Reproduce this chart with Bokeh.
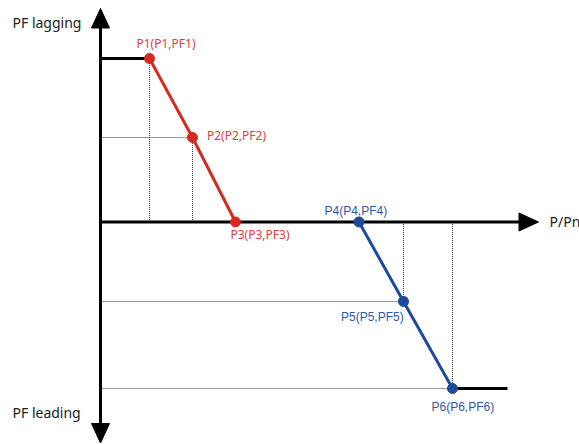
from bokeh.plotting import figure
from bokeh.models import Range1d, Label, ColumnDataSource
from bokeh.embed import file_html
from bokeh.resources import INLINE
from bokeh.core.properties import value

# ---- data (P/Pn and PF, arbitrary read-off units) ----
red_names = ["P1(P1,PF1)", "P2(P2,PF2)", "P3(P3,PF3)"]
red_p = [0.49, 0.92, 1.35]
red_pf = [1.635, 0.845, 0.0]

blue_names = ["P4(P4,PF4)", "P5(P5,PF5)", "P6(P6,PF6)"]
blue_p = [2.585, 3.03, 3.52]
blue_pf = [0.0, -0.795, -1.665]

p_end_line = 4.07          # end of the flat segment after P6
x_axis_end = 4.38          # P/Pn arrow tip
y_axis_top = 2.135         # PF lagging arrow tip
y_axis_bottom = -2.21      # PF leading arrow tip

RED = "#d52a22"
RED_TXT = "#e0403a"
BLUE = "#1d4a9a"
BLUE_TXT = "#2c5aa5"
DOT = "#333333"

W, H = 579, 444
p = figure(width=W, height=H, output_backend="svg", toolbar_location=None,
           x_range=Range1d(-1.0, -1.0 + W / 100), y_range=Range1d(2.215 - H / 100, 2.215),
           min_border=0, min_border_left=0, min_border_right=0, min_border_top=0, min_border_bottom=0)
p.xaxis.visible = False
p.yaxis.visible = False
p.grid.visible = False
p.outline_line_color = None
p.background_fill_color = "white"

head_len = 0.195
head_half = 0.09

# dotted guides
guide_pts_x = [red_p[0], red_p[1], blue_p[1], blue_p[2]]
guide_pts_y = [red_pf[0], red_pf[1], blue_pf[1], blue_pf[2]]
for gx, gy in zip(guide_pts_x, guide_pts_y):
    p.line([gx, gx], [0, gy], line_color=DOT, line_width=1, line_dash="1 1")
for gx, gy in zip([red_p[1], blue_p[1], blue_p[2]], [red_pf[1], blue_pf[1], blue_pf[2]]):
    p.line([0, gx], [gy, gy], line_color=DOT, line_width=1, line_dash="1 1")

# axes
p.line([0, 0], [y_axis_bottom + head_len, y_axis_top - head_len], line_color="black", line_width=3)
p.line([0, x_axis_end - head_len], [0, 0], line_color="black", line_width=3)
# arrow heads
p.patches(
    xs=[[-head_half, head_half, 0],
        [-head_half, head_half, 0],
        [x_axis_end - head_len, x_axis_end - head_len, x_axis_end]],
    ys=[[y_axis_top - head_len, y_axis_top - head_len, y_axis_top],
        [y_axis_bottom + head_len, y_axis_bottom + head_len, y_axis_bottom],
        [-head_half, head_half, 0]],
    fill_color="black", line_color="black", line_width=1)

# flat black segments
p.line([0, red_p[0]], [red_pf[0], red_pf[0]], line_color="black", line_width=3)
p.line([blue_p[2], p_end_line], [blue_pf[2], blue_pf[2]], line_color="black", line_width=3)

# characteristic lines
p.line(red_p, red_pf, line_color=RED, line_width=3)
p.line(blue_p, blue_pf, line_color=BLUE, line_width=3)
p.scatter(red_p, red_pf, size=10, fill_color=RED, line_color=RED)
p.scatter(blue_p, blue_pf, size=10, fill_color=BLUE, line_color=BLUE)

# point labels
red_src = ColumnDataSource(dict(x=red_p, y=red_pf, t=red_names,
                                xo=[-13, 14.5, -5], yo=[-15, -2, 12.5]))
p.text(x="x", y="y", text="t", x_offset="xo", y_offset="yo", source=red_src,
       text_color=RED_TXT, text_font=value("Noto Sans"), text_font_size="12px",
       text_align="left", text_baseline="middle")
blue_src = ColumnDataSource(dict(x=blue_p, y=blue_pf, t=blue_names,
                                 xo=[-34.5, -62.5, -21], yo=[-11.5, 15.7, 18.7]))
p.text(x="x", y="y", text="t", x_offset="xo", y_offset="yo", source=blue_src,
       text_color=BLUE_TXT, text_font=value("Liberation Sans"), text_font_size="12px",
       text_align="left", text_baseline="middle")

# axis titles
for txt, x, y in [("PF lagging", 12, H - 22), ("PF leading", 12, H - 412), ("P/Pn", 549, H - 221)]:
    p.add_layout(Label(x=x, y=y, x_units="screen", y_units="screen", text=txt,
                       text_font="Noto Sans", text_font_size="14px", text_color="#222222",
                       text_align="left", text_baseline="middle"))

open("out.html", "w").write(file_html(p, INLINE))
